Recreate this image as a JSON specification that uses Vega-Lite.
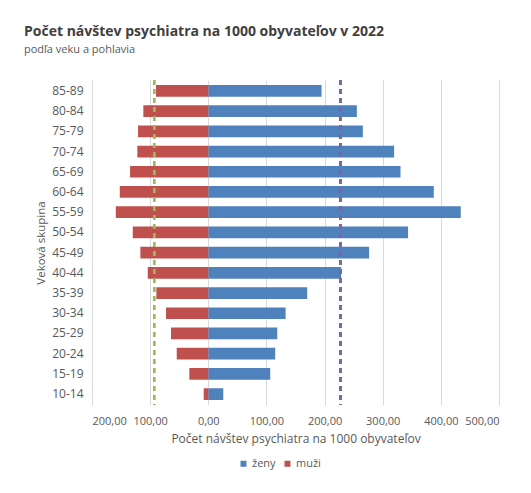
{
  "$schema": "https://vega.github.io/schema/vega-lite/v6.json",
  "width": 407,
  "height": 325,
  "autosize": {"type": "none"},
  "padding": {"left": 92, "top": 80, "right": 32, "bottom": 88},
  "background": "white",
  "config": {
    "font": "Open Sans",
    "view": {"stroke": null},
    "axis": {"labelColor": "#595959", "titleColor": "#595959", "labelFont": "Open Sans", "titleFont": "Open Sans", "titleFontWeight": "normal"}
  },
  "title": {
    "text": "Počet návštev psychiatra na 1000 obyvateľov v 2022",
    "subtitle": "podľa veku a pohlavia",
    "anchor": "start",
    "frame": "group",
    "dx": -68,
    "offset": 24,
    "fontSize": 14,
    "fontWeight": "bold",
    "color": "#404040",
    "subtitleFontSize": 11,
    "subtitleColor": "#595959",
    "subtitlePadding": 5
  },
  "data": {
    "values": [
      {"vek": "85-89", "pohlavie": "ženy", "hodnota": 194.8},
      {"vek": "80-84", "pohlavie": "ženy", "hodnota": 255.5},
      {"vek": "75-79", "pohlavie": "ženy", "hodnota": 265.8},
      {"vek": "70-74", "pohlavie": "ženy", "hodnota": 319.6},
      {"vek": "65-69", "pohlavie": "ženy", "hodnota": 330.6},
      {"vek": "60-64", "pohlavie": "ženy", "hodnota": 387.8},
      {"vek": "55-59", "pohlavie": "ženy", "hodnota": 434.2},
      {"vek": "50-54", "pohlavie": "ženy", "hodnota": 343.6},
      {"vek": "45-49", "pohlavie": "ženy", "hodnota": 276.6},
      {"vek": "40-44", "pohlavie": "ženy", "hodnota": 228.5},
      {"vek": "35-39", "pohlavie": "ženy", "hodnota": 170.1},
      {"vek": "30-34", "pohlavie": "ženy", "hodnota": 133.0},
      {"vek": "25-29", "pohlavie": "ženy", "hodnota": 118.6},
      {"vek": "20-24", "pohlavie": "ženy", "hodnota": 115.1},
      {"vek": "15-19", "pohlavie": "ženy", "hodnota": 106.5},
      {"vek": "10-14", "pohlavie": "ženy", "hodnota": 25.8},
      {"vek": "85-89", "pohlavie": "muži", "hodnota": -89.9},
      {"vek": "80-84", "pohlavie": "muži", "hodnota": -111.7},
      {"vek": "75-79", "pohlavie": "muži", "hodnota": -120.8},
      {"vek": "70-74", "pohlavie": "muži", "hodnota": -122.0},
      {"vek": "65-69", "pohlavie": "muži", "hodnota": -134.5},
      {"vek": "60-64", "pohlavie": "muži", "hodnota": -152.2},
      {"vek": "55-59", "pohlavie": "muži", "hodnota": -159.1},
      {"vek": "50-54", "pohlavie": "muži", "hodnota": -129.9},
      {"vek": "45-49", "pohlavie": "muži", "hodnota": -116.8},
      {"vek": "40-44", "pohlavie": "muži", "hodnota": -104.1},
      {"vek": "35-39", "pohlavie": "muži", "hodnota": -89.3},
      {"vek": "30-34", "pohlavie": "muži", "hodnota": -72.7},
      {"vek": "25-29", "pohlavie": "muži", "hodnota": -64.1},
      {"vek": "20-24", "pohlavie": "muži", "hodnota": -54.3},
      {"vek": "15-19", "pohlavie": "muži", "hodnota": -32.6},
      {"vek": "10-14", "pohlavie": "muži", "hodnota": -7.9}
    ]
  },
  "layer": [
    {
      "mark": {"type": "bar"},
      "encoding": {
        "y": {
          "field": "vek",
          "type": "nominal",
          "sort": ["85-89","80-84","75-79","70-74","65-69","60-64","55-59","50-54","45-49","40-44","35-39","30-34","25-29","20-24","15-19","10-14"],
          "scale": {"paddingInner": 0.42, "paddingOuter": 0.25},
          "axis": {"title": "Veková skupina", "ticks": false, "domain": false, "labelPadding": 9, "labelFontSize": 12, "titleFontSize": 11.5, "titlePadding": 5}
        },
        "x": {
          "field": "hodnota",
          "type": "quantitative",
          "scale": {"domain": [-200, 500], "nice": false},
          "axis": {
            "title": "Počet návštev psychiatra na 1000 obyvateľov",
            "values": [-200, -100, 0, 100, 200, 300, 400, 500],
            "labelExpr": "replace(format(abs(datum.value), '.2f'), '.', ',')",
            "grid": true,
            "gridColor": "#d9d9d9",
            "domain": false,
            "ticks": false,
            "labelPadding": 10,
            "labelFontSize": 11,
            "titleFontSize": 12,
            "titlePadding": 7
          }
        },
        "color": {
          "field": "pohlavie",
          "type": "nominal",
          "scale": {"domain": ["ženy", "muži"], "range": ["#4F81BD", "#C0504D"]},
          "legend": {
            "title": null,
            "orient": "none",
            "legendX": 146,
            "legendY": 378,
            "direction": "horizontal",
            "symbolType": "square",
            "symbolSize": 36,
            "labelFontSize": 11,
            "labelColor": "#595959",
            "columnPadding": 6,
            "labelOffset": 3
          }
        }
      }
    },
    {
      "mark": {"type": "rule", "strokeDash": [5, 4], "strokeWidth": 2, "color": "#9BBB59"},
      "encoding": {"x": {"datum": -93.3}}
    },
    {
      "mark": {"type": "rule", "strokeDash": [5, 4], "strokeWidth": 2, "color": "#8064A2"},
      "encoding": {"x": {"datum": 228}}
    }
  ]
}
